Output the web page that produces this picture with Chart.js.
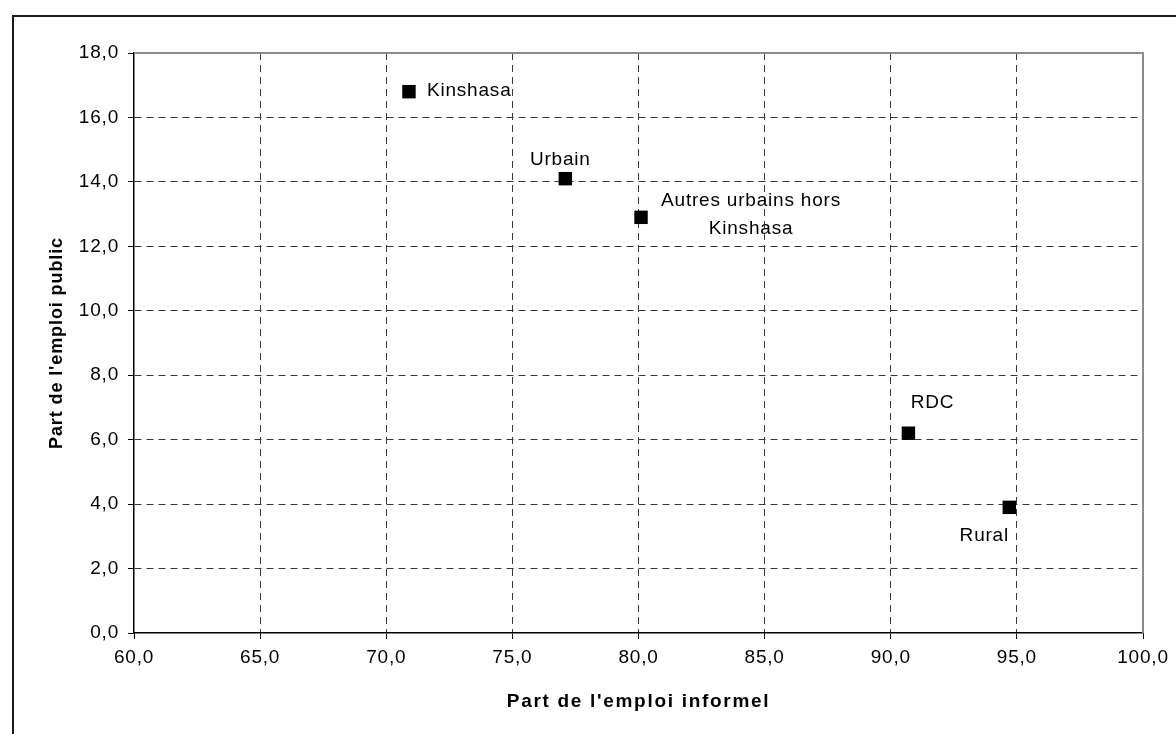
<!DOCTYPE html>
<html lang="fr">
<head>
<meta charset="utf-8">
<title>Emploi informel et emploi public</title>
<script src="https://cdn.jsdelivr.net/npm/chart.js@4.4.1/dist/chart.umd.min.js"></script>
<style>
  html, body { margin: 0; padding: 0; background: #ffffff; }
  #wrap { width: 1176px; height: 734px; position: relative; }
</style>
</head>
<body>
<div id="wrap"><canvas id="chart" width="1176" height="734"></canvas></div>
<script>
// Milieux de résidence et leurs parts d'emploi (%)
const zones = ['Kinshasa', 'Urbain', 'Autres urbains hors Kinshasa', 'RDC', 'Rural'];
const partInformel = [70.9, 77.1, 80.1, 90.7, 94.7];
const partPublic = [16.8, 14.1, 12.9, 6.2, 3.9];

// Libellés affichés à côté des points (lignes de texte)
const labelLines = [['Kinshasa'], ['Urbain'], ['Autres urbains hors', 'Kinshasa'], ['RDC'], ['Rural']];
// Décalage (px) de chaque libellé par rapport à son point, et alignement
const labelPlacement = [
  { dx: 18, dy: 4, align: 'left' },
  { dx: -5, dy: -14, align: 'center' },
  { dx: 110, dy: -11, align: 'center' },
  { dx: 24, dy: -25, align: 'center' },
  { dx: -25, dy: 34, align: 'center' }
];

const xTitle = "Part de l'emploi informel";
const yTitle = "Part de l'emploi public";

const FONT = '"Liberation Sans", Arial, sans-serif';
const fmt = v => Number(v).toFixed(1).replace('.', ',');

const points = partInformel.map((x, i) => ({ x, y: partPublic[i] }));

const frameAndText = {
  id: 'frameAndText',
  beforeDraw(chart) {
    const ctx = chart.ctx;
    ctx.save();
    ctx.fillStyle = '#ffffff';
    ctx.fillRect(0, 0, chart.width, chart.height);
    ctx.strokeStyle = '#1a1a1a';
    ctx.lineWidth = 2;
    ctx.strokeRect(13, 16, 1200, 800);
    ctx.restore();
    ctx.letterSpacing = '0.8px';
  },
  beforeDatasetsDraw(chart) {
    const ctx = chart.ctx;
    const a = chart.chartArea;
    ctx.save();
    ctx.strokeStyle = '#8c8c8c';
    ctx.lineWidth = 2;
    ctx.beginPath();
    ctx.moveTo(a.left, a.top);
    ctx.lineTo(a.right, a.top);
    ctx.lineTo(a.right, a.bottom);
    ctx.stroke();
    ctx.restore();
  },
  afterDatasetsDraw(chart) {
    const ctx = chart.ctx;
    const meta = chart.getDatasetMeta(0);
    ctx.save();
    ctx.fillStyle = '#000000';
    ctx.font = '19px ' + FONT;
    ctx.letterSpacing = '0.8px';
    ctx.textBaseline = 'alphabetic';
    meta.data.forEach((pt, i) => {
      const p = labelPlacement[i];
      ctx.textAlign = p.align;
      labelLines[i].forEach((line, k) => {
        ctx.fillText(line, pt.x + p.dx, pt.y + p.dy + k * 28);
      });
    });

    const a = chart.chartArea;
    ctx.font = 'bold 19px ' + FONT;
    ctx.textAlign = 'center';
    ctx.letterSpacing = '1.7px';
    ctx.fillText(xTitle, (a.left + a.right) / 2, 707);

    ctx.font = 'bold 18px ' + FONT;
    ctx.letterSpacing = '0.9px';
    ctx.translate(62, (a.top + a.bottom) / 2);
    ctx.rotate(-Math.PI / 2);
    ctx.fillText(yTitle, 0, 0);
    ctx.restore();
  }
};

const gridDash = [7, 5];

new Chart(document.getElementById('chart'), {
  type: 'scatter',
  data: {
    datasets: [{
      label: 'Milieu',
      data: points,
      pointStyle: 'rect',
      pointRadius: 9.5,
      pointHoverRadius: 9.5,
      pointBackgroundColor: '#000000',
      pointBorderWidth: 0,
      borderWidth: 0
    }]
  },
  options: {
    responsive: false,
    animation: false,
    events: [],
    layout: { padding: { left: 0, top: 53, right: 33, bottom: 0 } },
    plugins: {
      legend: { display: false },
      tooltip: { enabled: false }
    },
    scales: {
      x: {
        type: 'linear',
        min: 60,
        max: 100,
        afterFit(scale) { scale.height = 101; },
        ticks: {
          stepSize: 5,
          padding: 7,
          color: '#000000',
          font: { family: FONT, size: 19 },
          callback: v => fmt(v)
        },
        grid: {
          color: c => (c.tick && (c.tick.value === 60 || c.tick.value === 100)) ? 'rgba(0,0,0,0)' : '#3a3a3a',
          lineWidth: 1,
          tickColor: '#000000',
          tickLength: 6,
          tickWidth: 1,
          tickBorderDash: []
        },
        border: { color: '#000000', width: 1.5, dash: gridDash }
      },
      y: {
        type: 'linear',
        min: 0,
        max: 18,
        afterFit(scale) { scale.width = 134; },
        ticks: {
          stepSize: 2,
          padding: 9,
          color: '#000000',
          font: { family: FONT, size: 19 },
          callback: v => fmt(v)
        },
        grid: {
          color: c => (c.tick && (c.tick.value === 0 || c.tick.value === 18)) ? 'rgba(0,0,0,0)' : '#3a3a3a',
          lineWidth: 1,
          tickColor: '#000000',
          tickLength: 6,
          tickWidth: 1,
          tickBorderDash: []
        },
        border: { color: '#000000', width: 1.5, dash: gridDash }
      }
    }
  },
  plugins: [frameAndText]
});
</script>
</body>
</html>
